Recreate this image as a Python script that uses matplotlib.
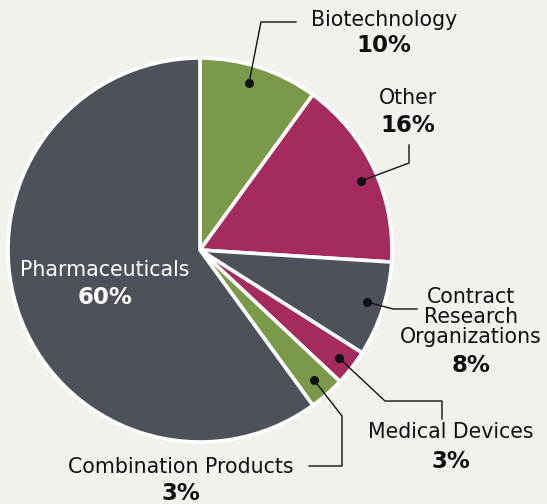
import matplotlib
matplotlib.use("Agg")
import matplotlib.pyplot as plt

categories = ["Biotechnology", "Other", "Contract\nResearch\nOrganizations",
              "Medical Devices", "Combination Products", "Pharmaceuticals"]
values = [10, 16, 8, 3, 3, 60]
pct_labels = ["10%", "16%", "8%", "3%", "3%", "60%"]
colors = ["#7a9a4a", "#a52a5e", "#4d5159", "#a52a5e", "#7a9a4a", "#4d5159"]

W, H = 547, 504
BG = "#f2f2ed"
fig = plt.figure(figsize=(W / 100, H / 100), dpi=100, facecolor=BG)
ax = fig.add_axes([0, 0, 1, 1])
ax.set_facecolor(BG)

def Y(y):
    return H - y

cx, cy, R = 200, 250, 192
ax.pie(values, colors=colors, startangle=90, counterclock=False,
       center=(cx, Y(cy)), radius=R, frame=True,
       wedgeprops=dict(edgecolor="white", linewidth=2.6))
ax.set_xlim(0, W)
ax.set_ylim(0, H)
ax.set_aspect("equal")
ax.axis("off")

name_fs = 14.8
pct_fs = 16.5
font = "DejaVu Sans"

# label positions (pixel centres): x, name_y, pct_y
label_pos = [
    (384, 20, 46),
    (408, 98, 126),
    (471, 317, 366),
    (451, 432, 461),
    (181, 467, 494),
    (105, 270, 297),
]
for i, (x, ny, py) in enumerate(label_pos):
    c = "white" if i == 5 else "#111111"
    ax.text(x, Y(ny), categories[i], ha="center", va="center", fontsize=name_fs,
            family=font, color=c, linespacing=1.02)
    ax.text(x, Y(py), pct_labels[i], ha="center", va="center", fontsize=pct_fs,
            family=font, weight="bold", color=c)

# leader lines
leaders = [
    [(249, 83), (261, 22), (296, 22)],
    [(361, 181), (409, 163), (409, 145)],
    [(367, 302), (393, 309), (417, 309)],
    [(339, 358), (385, 401), (442, 401), (442, 419)],
    [(314, 380), (342, 416), (342, 466), (309, 466)],
]
for pts in leaders:
    xs = [p[0] for p in pts]
    ys = [Y(p[1]) for p in pts]
    ax.plot(xs, ys, color="#111111", lw=1.0, solid_joinstyle="miter")
    ax.plot(xs[0], ys[0], "o", color="#111111", ms=5.5)

fig.savefig("out.png", dpi=100, facecolor=BG)
